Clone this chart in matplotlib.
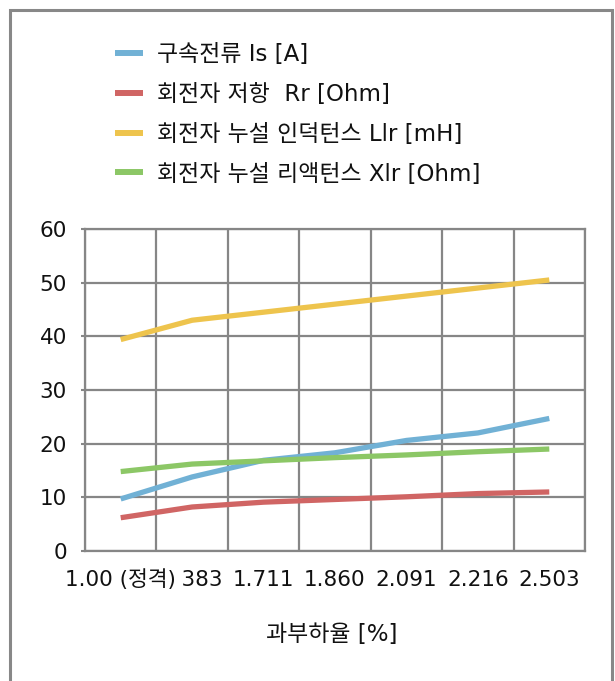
import matplotlib
matplotlib.use("Agg")
import matplotlib.pyplot as plt
from matplotlib.lines import Line2D
from matplotlib.patches import Rectangle
import numpy as np

plt.rcParams['font.family'] = ['DejaVu Sans', 'Noto Sans CJK KR']

# Overload ratio categories
categories = ['1.00 (정격)', '1.383', '1.711', '1.860', '2.091', '2.216', '2.503']

# Measured quantities per overload ratio
locked_current = [9.7, 13.8, 16.9, 18.3, 20.6, 22.0, 24.7]      # 구속전류 Is [A]
rotor_resistance = [6.2, 8.2, 9.1, 9.6, 10.1, 10.7, 11.0]       # 회전자 저항 Rr [Ohm]
leak_inductance = [39.4, 43.0, 44.5, 46.0, 47.5, 49.0, 50.5]    # 회전자 누설 인덕턴스 Llr [mH]
leak_reactance = [14.8, 16.2, 16.8, 17.4, 17.9, 18.5, 19.0]     # 회전자 누설 리액턴스 Xlr [Ohm]

series_labels = ['구속전류 Is [A]', '회전자 저항  Rr [Ohm]',
                 '회전자 누설 인덕턴스 Llr [mH]', '회전자 누설 리액턴스 Xlr [Ohm]']
series_colors = ['#71B1D5', '#D06564', '#EEC44D', '#8CC766']
y_ticks = [0, 10, 20, 30, 40, 50, 60]

W, H = 615, 681
fig = plt.figure(figsize=(W / 100, H / 100), dpi=100)
fig.patch.set_facecolor('white')

# Chart border
fig.add_artist(Rectangle((10 / W, -0.02), (612 - 10) / W, (H - 10) / H + 0.02,
                         transform=fig.transFigure, fill=False,
                         edgecolor='#888888', linewidth=2.2))

ax = fig.add_axes([85 / W, (H - 551) / H, (585 - 85) / W, (551 - 229) / H])

grid_col = '#868686'
text_col = '#111111'
x = np.arange(len(categories))
series = [locked_current, rotor_resistance, leak_inductance, leak_reactance]
for vals, col in zip(series, series_colors):
    ax.plot(x, vals, color=col, linewidth=3.8, solid_capstyle='butt', zorder=3)

ax.set_xlim(-0.5, len(categories) - 0.5)
ax.set_ylim(0, 60)
ax.set_yticks(y_ticks)
ax.set_yticklabels([str(v) for v in y_ticks], color=text_col)
ax.tick_params(axis='y', length=3, width=1.5, color=grid_col, pad=10, labelsize=15.5)

# Vertical grid lines sit on category boundaries
ax.set_xticks(np.arange(len(categories) + 1) - 0.5)
ax.set_xticklabels([])
ax.tick_params(axis='x', length=0)
ax.grid(True, color=grid_col, linewidth=1.6)
ax.set_axisbelow(True)
for s in ax.spines.values():
    s.set_color(grid_col)
    s.set_linewidth(1.6)

# Category labels (the first label sits on top of its neighbour)
for i, lab in enumerate(categories):
    kw = {}
    z = 5
    if i == 0:
        kw['bbox'] = dict(facecolor='white', edgecolor='none', pad=2.5)
        z = 6
    ax.text(i, -0.09, lab, transform=ax.get_xaxis_transform(),
            ha='center', va='center', fontsize=15.5, color=text_col,
            clip_on=False, zorder=z, **kw)

fig.text(332 / W, 1 - 634 / H, '과부하율 [%]', ha='center', va='center',
         fontsize=16.5, color=text_col)

handles = [Line2D([0], [0], color=c, linewidth=4.3, solid_capstyle='butt')
           for c in series_colors]
fig.legend(handles, series_labels, loc='upper left',
           bbox_to_anchor=(94 / W, 1 - 22 / H), frameon=False,
           fontsize=16.5, handlelength=1.22, handletextpad=0.61,
           labelspacing=0.74, labelcolor=text_col)

fig.savefig('out.png', dpi=100)
